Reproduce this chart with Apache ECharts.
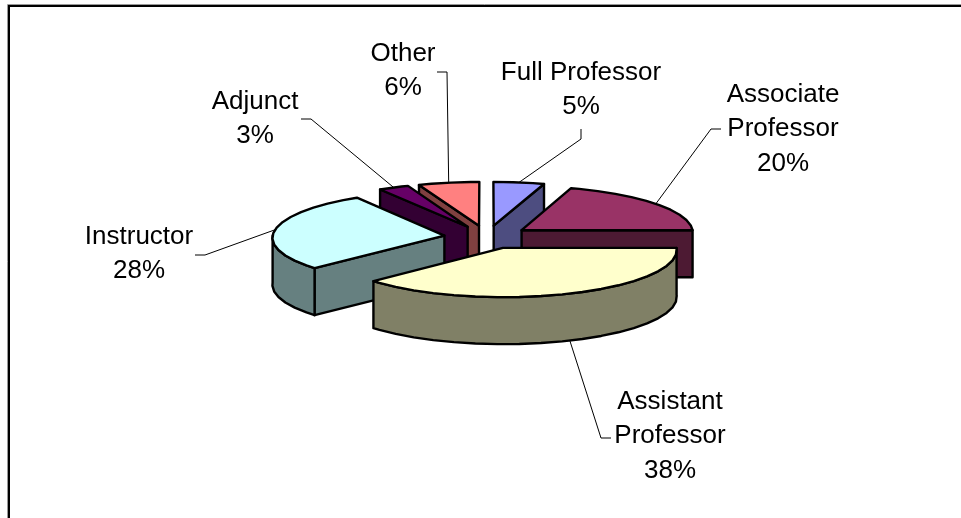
<!DOCTYPE html>
<html>
<head>
<meta charset="utf-8">
<style>html,body{margin:0;padding:0;background:#fff}#c{width:961px;height:518px}</style>
<script src="https://cdn.jsdelivr.net/npm/echarts@6/dist/echarts.min.js"></script>
</head>
<body>
<div id="c"></div>
<script>
const categories = ['Full Professor', 'Associate\nProfessor', 'Assistant\nProfessor', 'Instructor', 'Adjunct', 'Other'];
const values = [5, 20, 38, 28, 3, 6];
const topColors = ['#9999FF', '#993366', '#FFFFCC', '#CCFFFF', '#660066', '#FF8080'];
const sideColors = ['#4D4D80', '#4D1A33', '#808066', '#668080', '#330033', '#804040'];
// label block centres and leader-line elbows (layout only)
const labelCentres = [[581, 90], [783, 129], [670, 436], [139, 254], [255, 119], [403, 71]];
const leaderElbows = [
  [[581, 129], [581, 139]],
  [[721, 129], [711, 129]],
  [[611, 438], [601, 438]],
  [[195, 255], [205, 255]],
  [[301, 119], [311, 119]],
  [[437, 72], [447, 72]]
];

const CX = 487, CY = 237, RX = 172, RY = 46.5, DEPTH = 47, EXPLODE = 0.25, PERSP = 0.04, STEP = 7;
const total = values.reduce((a, b) => a + b, 0);
const rad = d => d * Math.PI / 180;
let acc = 0;
const slices = values.map((v, i) => {
  const start = acc / total * 360;
  acc += v;
  const end = acc / total * 360;
  const mid = (start + end) / 2;
  return { i, start, end, mid, ou: Math.sin(rad(mid)) * EXPLODE, ov: Math.cos(rad(mid)) * EXPLODE };
});
function project(u, v, drop) {
  const s = 1 - PERSP * v;
  return [CX + u * RX * s, CY - v * RY * s + (drop || 0)];
}
function rimPoint(sl, deg, drop) {
  return project(sl.ou + Math.sin(rad(deg)), sl.ov + Math.cos(rad(deg)), drop);
}
function arcAngles(a, b) {
  const out = [a];
  for (let d = Math.ceil(a / STEP + 1e-6) * STEP; d < b; d += STEP) out.push(d);
  out.push(b);
  return out;
}
const drawOrder = slices.slice().sort((a, b) => b.ov - a.ov).map(s => s.i);
const outline = { stroke: '#000', lineWidth: 2.4, lineJoin: 'round' };

function renderSlice(params, api) {
  const sl = slices[api.value(0)];
  const top = topColors[sl.i], side = sideColors[sl.i];
  const apex = project(sl.ou, sl.ov, 0);
  const apexLow = project(sl.ou, sl.ov, DEPTH);
  const children = [];
  const wall = deg => ({
    type: 'polygon', silent: true,
    shape: { points: [apex, rimPoint(sl, deg, 0), rimPoint(sl, deg, DEPTH), apexLow] },
    style: Object.assign({ fill: side }, outline)
  });
  if (sl.start > 180 && sl.start < 360) children.push(wall(sl.start));
  if (sl.end > 0 && sl.end < 180) children.push(wall(sl.end));
  const a = Math.max(sl.start, 90), b = Math.min(sl.end, 270);
  if (b > a) {
    const angs = arcAngles(a, b);
    const pts = angs.map(d => rimPoint(sl, d, 0)).concat(angs.slice().reverse().map(d => rimPoint(sl, d, DEPTH)));
    children.push({ type: 'polygon', silent: true, shape: { points: pts }, style: Object.assign({ fill: side }, outline) });
  }
  const topPts = [apex].concat(arcAngles(sl.start, sl.end).map(d => rimPoint(sl, d, 0)));
  children.push({ type: 'polygon', silent: true, shape: { points: topPts }, style: Object.assign({ fill: top }, outline) });
  return { type: 'group', children };
}

const graphics = [
  { type: 'polyline', silent: true, z: 1, shape: { points: [[7.5, 518], [7.5, 4.5], [961, 4.5]] }, style: { fill: 'none', stroke: '#999', lineWidth: 1 } },
  { type: 'polyline', silent: true, z: 2, shape: { points: [[9, 518], [9, 6], [961, 6]] }, style: { fill: 'none', stroke: '#000', lineWidth: 2 } }
];
slices.forEach(sl => {
  const front = sl.mid > 90 && sl.mid < 270;
  const anchor = rimPoint(sl, sl.mid, front ? DEPTH : 0);
  graphics.push({
    type: 'polyline', silent: true, z: 3,
    shape: { points: leaderElbows[sl.i].concat([anchor]) },
    style: { fill: 'none', stroke: '#000', lineWidth: 1 }
  });
  graphics.push({
    type: 'text', silent: true, z: 4,
    x: labelCentres[sl.i][0], y: labelCentres[sl.i][1],
    style: {
      text: categories[sl.i] + '\n' + values[sl.i] + '%',
      fill: '#000', font: '26px "Liberation Sans", Arial, sans-serif',
      lineHeight: 34.5, align: 'center', verticalAlign: 'middle'
    }
  });
});

const chart = echarts.init(document.getElementById('c'), null, { renderer: 'canvas' });
chart.setOption({
  animation: false,
  backgroundColor: '#fff',
  tooltip: { show: false },
  graphic: graphics,
  series: [{
    type: 'custom',
    coordinateSystem: 'none',
    silent: true,
    z: 5,
    renderItem: renderSlice,
    data: drawOrder.map(i => [i])
  }]
});
</script>
</body>
</html>
